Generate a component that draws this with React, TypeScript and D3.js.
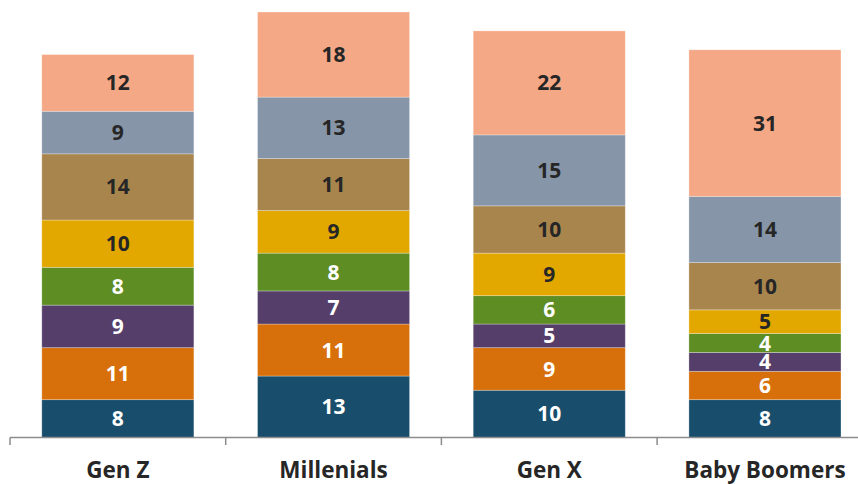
import React from "react";
import * as d3 from "d3";

const categories = ["Gen Z", "Millenials", "Gen X", "Baby Boomers"];
const seriesNames = ["s1", "s2", "s3", "s4", "s5", "s6", "s7", "s8"];
const s1 = [8, 13, 10, 8];
const s2 = [11, 11, 9, 6];
const s3 = [9, 7, 5, 4];
const s4 = [8, 8, 6, 4];
const s5 = [10, 9, 9, 5];
const s6 = [14, 11, 10, 10];
const s7 = [9, 13, 15, 14];
const s8 = [12, 18, 22, 31];
const seriesValues = [s1, s2, s3, s4, s5, s6, s7, s8];
const colors = ["#184e6c", "#d7700a", "#553e6a", "#5e8d24", "#e2a800", "#a9854e", "#8695a7", "#f4a885"];
const labelColors = ["#ffffff", "#ffffff", "#ffffff", "#ffffff", "#262626", "#262626", "#262626", "#262626"];

const W = 858;
const H = 484;
const FONT = "'Open Sans', Lato, sans-serif";

export default function App() {
  const rows = categories.map((c, i) => {
    const r: any = { cat: c };
    seriesNames.forEach((s, j) => (r[s] = seriesValues[j][i]));
    return r;
  });
  const stack = d3.stack<any>().keys(seriesNames)(rows);
  const band = 215.7;
  const x = d3.scaleBand<string>().domain(categories).range([10, 10 + band * 4]).paddingInner(0.295).paddingOuter(0.1475);
  const y = d3.scaleLinear().domain([0, 90]).range([437.5, 12]);
  const step = x.step();
  const x0 = 10;
  return (
    <svg width={W} height={H} style={{ position: "absolute", left: 0, top: 0 }}>
      {stack.map((layer, j) => (
        <g key={j}>
          {layer.map((d, i) => {
            const xx = x(categories[i])!;
            const y0 = y(d[1]);
            const y1 = y(d[0]);
            return (
              <g key={i}>
                <rect x={xx} y={y0} width={x.bandwidth()} height={y1 - y0} fill={colors[j]} stroke="#ffffff" strokeOpacity={0.35} strokeWidth={0.8} />
                <text
                  x={xx + x.bandwidth() / 2}
                  y={(y0 + y1) / 2}
                  dy="0.36em"
                  textAnchor="middle"
                  fill={labelColors[j]}
                  fontFamily={FONT}
                  fontWeight={700}
                  fontSize={21}
                >
                  {d[1] - d[0]}
                </text>
              </g>
            );
          })}
        </g>
      ))}
      <line x1={x0} x2={W} y1={437.5} y2={437.5} stroke="#8c8c8c" strokeWidth={1.5} />
      {d3.range(4).map((i) => (
        <line key={i} x1={x0 + step * i} x2={x0 + step * i} y1={437.5} y2={445} stroke="#8c8c8c" strokeWidth={1.5} />
      ))}
      {categories.map((c) => (
        <text
          key={c}
          x={x(c)! + x.bandwidth() / 2}
          y={470}
          dy="0.36em"
          textAnchor="middle"
          fill="#262626"
          fontFamily={FONT}
          fontWeight={700}
          fontSize={22.5}
        >
          {c}
        </text>
      ))}
    </svg>
  );
}
